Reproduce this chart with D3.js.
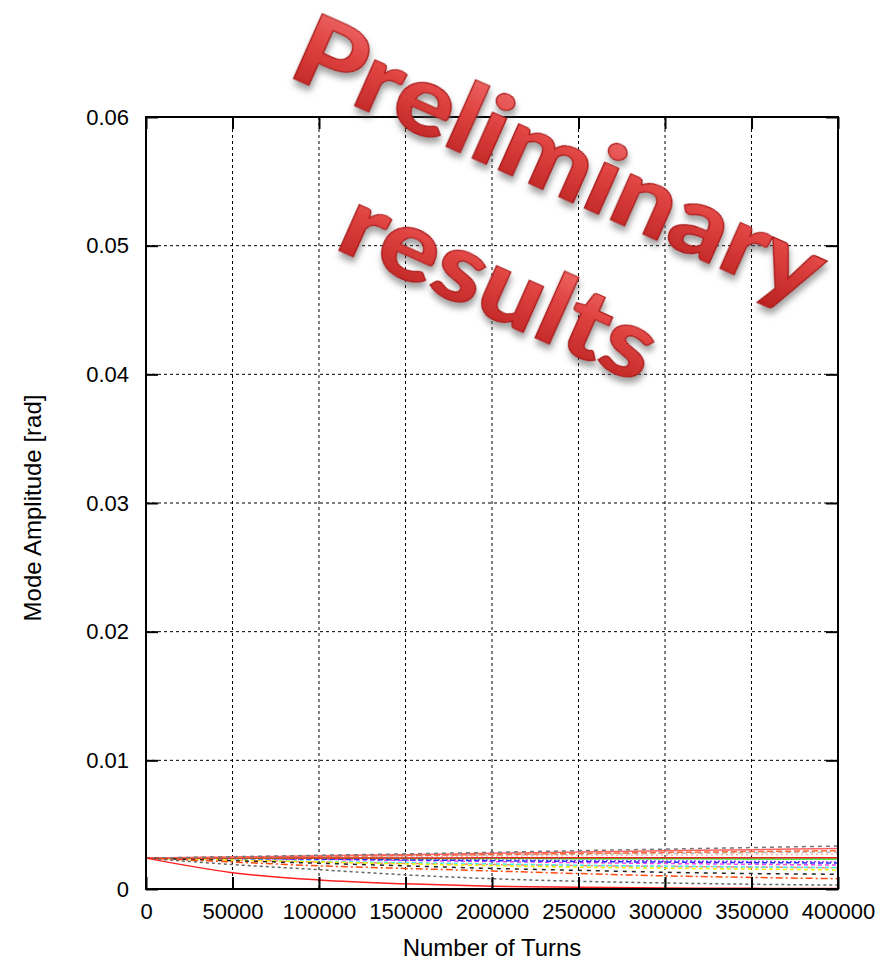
<!doctype html>
<html>
<head>
  <script src="https://cdnjs.cloudflare.com/ajax/libs/d3/7.8.5/d3.min.js"></script>
  <style>
    body { margin: 0; background: #fff; }
    text { font-family: "Liberation Sans", Arial, sans-serif; }
  </style>
</head>
<body>
<svg id="chart" width="891" height="961"></svg>
<script>
// turns sampled along the x axis
var turns = [0, 50000, 100000, 150000, 200000, 250000, 300000, 350000, 400000];

var xTicks = [0, 50000, 100000, 150000, 200000, 250000, 300000, 350000, 400000];
var yTicks = [0, 0.01, 0.02, 0.03, 0.04, 0.05, 0.06];

// mode amplitudes (rad)
var redDecay    = [0.0024, 0.00127, 0.0007, 0.0004, 0.00022, 0.00013, 0.00008, 0.00005, 0.00004];
var greyLow     = [0.0024, 0.0019, 0.0015, 0.0011, 0.0008, 0.0006, 0.00047, 0.00037, 0.0003];
var orangeDD    = [0.0024, 0.0021, 0.0018, 0.0016, 0.0014, 0.0012, 0.00102, 0.0009, 0.0008];
var salmonDD    = [0.0024, 0.00225, 0.0021, 0.002, 0.0019, 0.00182, 0.00175, 0.0017, 0.00165];
var blackDash   = [0.0024, 0.0022, 0.002, 0.0018, 0.0016, 0.00145, 0.0013, 0.0012, 0.00115];
var yellowDash  = [0.0024, 0.00225, 0.0021, 0.00195, 0.00182, 0.0017, 0.00162, 0.00155, 0.00148];
var cyanDash    = [0.0024, 0.0023, 0.00215, 0.00205, 0.00195, 0.00185, 0.00178, 0.00172, 0.00166];
var magentaDash = [0.0024, 0.00235, 0.0023, 0.00222, 0.00213, 0.00205, 0.00198, 0.00192, 0.00186];
var blueDash    = [0.0024, 0.00237, 0.00232, 0.00226, 0.0022, 0.00214, 0.00209, 0.00205, 0.00202];
var purpleDot   = [0.0024, 0.00238, 0.00235, 0.0023, 0.00226, 0.00222, 0.00218, 0.00214, 0.0021];
var greenSolid  = [0.0024, 0.0024, 0.00239, 0.00238, 0.00237, 0.00236, 0.00235, 0.00234, 0.00233];
var redFlat     = [0.0024, 0.0024, 0.00241, 0.00241, 0.00242, 0.00242, 0.00242, 0.00243, 0.00243];
var pinkDot     = [0.0024, 0.00244, 0.00248, 0.00252, 0.00256, 0.0026, 0.00263, 0.00267, 0.0027];
var greyLight   = [0.0024, 0.00246, 0.00252, 0.00258, 0.00264, 0.0027, 0.00276, 0.00282, 0.00287];
var orangeDash  = [0.0024, 0.00247, 0.00254, 0.00261, 0.00268, 0.00276, 0.00284, 0.00291, 0.00298];
var redTop      = [0.0024, 0.00249, 0.00258, 0.00267, 0.00277, 0.00287, 0.00297, 0.00306, 0.00315];
var greyTop     = [0.0024, 0.00251, 0.00262, 0.00273, 0.00285, 0.00298, 0.0031, 0.00322, 0.00334];

var series = [
  {v: salmonDD,    c: "#ff8a70", d: "7,3,2,3"},
  {v: pinkDot,     c: "#ffb0b0", d: "2,3"},
  {v: greyLight,   c: "#bbbbbb", d: "5,3"},
  {v: purpleDot,   c: "#aa44ff", d: "2,2"},
  {v: magentaDash, c: "#ee44ee", d: "4,3"},
  {v: cyanDash,    c: "#44eeee", d: "4,3"},
  {v: yellowDash,  c: "#f0f000", d: "4,3"},
  {v: blueDash,    c: "#2233ff", d: "5,3"},
  {v: greenSolid,  c: "#22dd22", d: null},
  {v: redFlat,     c: "#ee2222", d: null},
  {v: orangeDash,  c: "#ff6a30", d: "6,3"},
  {v: redTop,      c: "#ff6060", d: null},
  {v: greyTop,     c: "#777777", d: "4,4"},
  {v: blackDash,   c: "#222222", d: "4,5"},
  {v: orangeDD,    c: "#ff4a10", d: "7,3,2,3"},
  {v: greyLow,     c: "#666666", d: "3,3"},
  {v: redDecay,    c: "#ff2020", d: null}
];

var svg = d3.select("#chart");
var mLeft = 146, mRight = 838, mTop = 117, mBottom = 889;

var x = d3.scaleLinear().domain([0, 400000]).range([mLeft, mRight]);
var y = d3.scaleLinear().domain([0, 0.06]).range([mBottom, mTop]);

// grid
svg.append("g").selectAll("line").data(xTicks.slice(1, -1)).enter().append("line")
  .attr("x1", d => x(d)).attr("x2", d => x(d))
  .attr("y1", mTop).attr("y2", mBottom)
  .attr("stroke", "#000").attr("stroke-width", 1).attr("stroke-dasharray", "3,3");
svg.append("g").selectAll("line").data(yTicks.slice(1, -1)).enter().append("line")
  .attr("x1", mLeft).attr("x2", mRight)
  .attr("y1", d => y(d)).attr("y2", d => y(d))
  .attr("stroke", "#000").attr("stroke-width", 1).attr("stroke-dasharray", "3,3");

// curves
var line = d3.line()
  .x((d, i) => x(turns[i]))
  .y(d => y(d))
  .curve(d3.curveMonotoneX);

svg.append("g").selectAll("path").data(series).enter().append("path")
  .attr("d", d => line(d.v))
  .attr("fill", "none")
  .attr("stroke", d => d.c)
  .attr("stroke-width", 1.5)
  .attr("stroke-dasharray", d => d.d);

// axes with inward ticks
var xAxisB = d3.axisBottom(x).tickValues(xTicks).tickSize(-12).tickFormat(d3.format("d"));
var xAxisT = d3.axisTop(x).tickValues(xTicks).tickSize(-12).tickFormat("");
var yAxisL = d3.axisLeft(y).tickValues(yTicks).tickSize(-12).tickFormat(d => d === 0 ? "0" : d3.format(".2f")(d));
var yAxisR = d3.axisRight(y).tickValues(yTicks).tickSize(-12).tickFormat("");

function styleAxis(g) {
  g.select(".domain").remove();
  g.selectAll(".tick line").attr("stroke", "#000").attr("stroke-width", 2);
  g.selectAll(".tick text").attr("fill", "#000").style("font-size", "22px");
}

svg.append("g").attr("transform", "translate(0," + mBottom + ")").call(xAxisB).call(styleAxis)
  .selectAll(".tick text").attr("y", 14).attr("dy", "0.71em");
svg.append("g").attr("transform", "translate(0," + mTop + ")").call(xAxisT).call(styleAxis);
svg.append("g").attr("transform", "translate(" + mLeft + ",0)").call(yAxisL).call(styleAxis)
  .selectAll(".tick text").attr("x", -17);
svg.append("g").attr("transform", "translate(" + mRight + ",0)").call(yAxisR).call(styleAxis);

// frame
svg.append("rect")
  .attr("x", mLeft).attr("y", mTop)
  .attr("width", mRight - mLeft).attr("height", mBottom - mTop)
  .attr("fill", "none").attr("stroke", "#000").attr("stroke-width", 2);

// axis titles
svg.append("text")
  .attr("x", (mLeft + mRight) / 2).attr("y", 956)
  .attr("text-anchor", "middle")
  .style("font-size", "24px")
  .text("Number of Turns");
svg.append("text")
  .attr("transform", "translate(41,508) rotate(-90)")
  .attr("text-anchor", "middle")
  .style("font-size", "24px")
  .text("Mode Amplitude [rad]");

// "Preliminary results" stamp
var defs = svg.append("defs");
var grad = defs.append("linearGradient").attr("id", "redgrad")
  .attr("x1", 0).attr("y1", 0).attr("x2", 0).attr("y2", 1);
grad.append("stop").attr("offset", "0%").attr("stop-color", "#f47a78");
grad.append("stop").attr("offset", "45%").attr("stop-color", "#e04442");
grad.append("stop").attr("offset", "100%").attr("stop-color", "#b81f1e");
var filt = defs.append("filter").attr("id", "shadow")
  .attr("x", "-10%").attr("y", "-10%").attr("width", "130%").attr("height", "140%");
filt.append("feDropShadow").attr("dx", 3).attr("dy", 5).attr("stdDeviation", 3)
  .attr("flood-color", "#555").attr("flood-opacity", 0.55);

var stamp = [
  {t: "Preliminary", cx: 560, cy: 160, len: 570},
  {t: "results", cx: 500, cy: 285, len: 335}
];
svg.append("g").selectAll("text").data(stamp).enter().append("text")
  .attr("transform", d => "translate(" + d.cx + "," + d.cy + ") rotate(24)")
  .attr("text-anchor", "middle")
  .attr("dy", "0.35em")
  .attr("textLength", d => d.len)
  .attr("lengthAdjust", "spacingAndGlyphs")
  .style("font-family", "Lato, 'Open Sans', sans-serif")
  .style("font-weight", 900)
  .style("font-size", "98px")
  .attr("fill", "url(#redgrad)")
  .attr("stroke", "#a81818")
  .attr("stroke-width", 1.2)
  .attr("filter", "url(#shadow)")
  .text(d => d.t);
</script>
</body>
</html>
